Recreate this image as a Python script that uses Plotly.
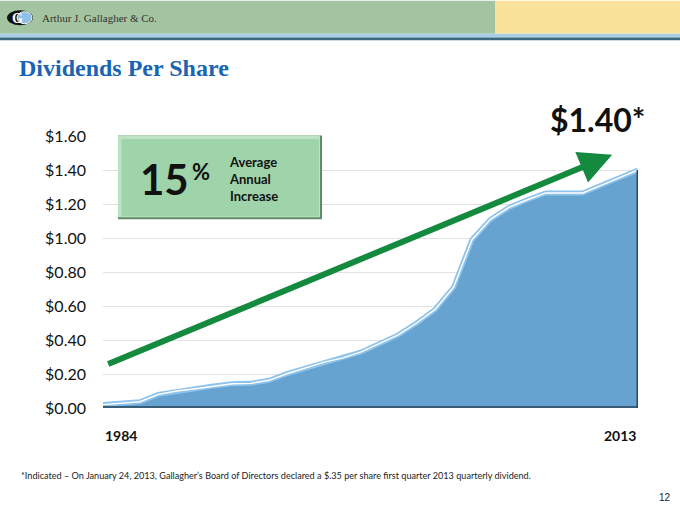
import plotly.graph_objects as go

# ---- data ----
years = list(range(1984, 2014))
dividends = [0.02, 0.028, 0.037, 0.08, 0.10, 0.113, 0.13, 0.143, 0.145, 0.163,
             0.203, 0.235, 0.27, 0.295, 0.33, 0.38, 0.43, 0.50, 0.58, 0.71,
             0.99, 1.11, 1.18, 1.225, 1.265, 1.265, 1.265, 1.31, 1.355, 1.40]
y_ticks = [0.0, 0.2, 0.4, 0.6, 0.8, 1.0, 1.2, 1.4, 1.6]
y_tick_labels = ["$0.00", "$0.20", "$0.40", "$0.60", "$0.80", "$1.00", "$1.20", "$1.40", "$1.60"]
first_label, last_label = "1984", "2013"

# ---- layout geometry (pixels) ----
FW, FH = 680, 510
L, R, T, B = 103, 638, 135.5, 408
W, H = R - L, B - T
def px(x):
    return (x - L) / W
def py(y):
    return (B - y) / H

fig = go.Figure()

fig.add_trace(go.Scatter(
    x=years, y=dividends, mode="lines", fill="tozeroy",
    fillcolor="#66A3D0", line=dict(color="#8DC3EC", width=5),
    hoverinfo="skip", showlegend=False))
fig.add_trace(go.Scatter(
    x=years, y=dividends, mode="lines",
    line=dict(color="#FFFFFF", width=1.4),
    hoverinfo="skip", showlegend=False))

shapes = []
# header bands
shapes.append(dict(type="rect", xref="paper", yref="paper", x0=px(0), x1=px(495), y0=py(33), y1=py(0),
                   fillcolor="#A3C4A0", line_width=0, layer="below"))
shapes.append(dict(type="rect", xref="paper", yref="paper", x0=px(495), x1=px(680), y0=py(33), y1=py(0),
                   fillcolor="#FBE29A", line_width=0, layer="below"))
shapes.append(dict(type="rect", xref="paper", yref="paper", x0=px(0), x1=px(680), y0=py(36.7), y1=py(33),
                   fillcolor="#A9CFE6", line_width=0))
shapes.append(dict(type="rect", xref="paper", yref="paper", x0=px(0), x1=px(680), y0=py(39.5), y1=py(36.7),
                   fillcolor="#3A6A7E", line_width=0))
# logo
shapes.append(dict(type="circle", xref="paper", yref="paper", x0=px(7), x1=px(33), y0=py(24.5), y1=py(9.5),
                   fillcolor="#111111", line_width=0))
shapes.append(dict(type="circle", xref="paper", yref="paper", x0=px(17), x1=px(32), y0=py(23), y1=py(11),
                   fillcolor="#8EC0E8", line=dict(color="#FFFFFF", width=1)))
# 3D base and right edge of area
shapes.append(dict(type="line", xref="x", yref="y", x0=years[0], x1=years[-1], y0=0, y1=0,
                   line=dict(color="#3B5E78", width=4)))
shapes.append(dict(type="line", xref="x", yref="y", x0=years[-1], x1=years[-1], y0=0, y1=dividends[-1],
                   line=dict(color="#2F4A5E", width=3)))
# green box (bevel)
shapes.append(dict(type="rect", xref="paper", yref="paper", x0=px(118), x1=px(322), y0=py(219), y1=py(135),
                   fillcolor="#5E8D67", line_width=0))
shapes.append(dict(type="rect", xref="paper", yref="paper", x0=px(118), x1=px(320), y0=py(217), y1=py(135),
                   fillcolor="#BCE3C3", line_width=0))
shapes.append(dict(type="rect", xref="paper", yref="paper", x0=px(121.5), x1=px(319), y0=py(216), y1=py(138.5),
                   fillcolor="#9FD3AA", line_width=0))

fig.update_layout(shapes=shapes)

ann = []
ann.append(dict(xref="paper", yref="paper", x=px(40), y=py(17.5), xanchor="left", yanchor="middle",
                text="Arthur J. Gallagher &amp; Co.", showarrow=False,
                font=dict(family="Liberation Serif", size=11, color="#333333")))
ann.append(dict(xref="paper", yref="paper", x=px(17), y=py(17.5), xanchor="center", yanchor="middle",
                text="<b>G</b>", showarrow=False,
                font=dict(family="Liberation Serif", size=14, color="#FFFFFF")))
ann.append(dict(xref="paper", yref="paper", x=px(17), y=py(67), xanchor="left", yanchor="middle",
                text="<b>Dividends Per Share</b>", showarrow=False,
                font=dict(family="Liberation Serif", size=24, color="#1A64B4")))
ann.append(dict(xref="paper", yref="paper", x=px(647), y=py(119), xanchor="right", yanchor="middle",
                text="<b>$1.40*</b>", showarrow=False,
                font=dict(family="Lato", size=32, color="#111111")))
# box texts
ann.append(dict(xref="paper", yref="paper", x=px(191), y=py(179), xanchor="right", yanchor="middle",
                text="<b>15</b>", showarrow=False,
                font=dict(family="Lato", size=42, color="#111111")))
ann.append(dict(xref="paper", yref="paper", x=px(190), y=py(171), xanchor="left", yanchor="middle",
                text="<b>%</b>", showarrow=False,
                font=dict(family="Lato", size=22, color="#111111")))
ann.append(dict(xref="paper", yref="paper", x=px(227), y=py(178.5), xanchor="left", yanchor="middle",
                text="<b>Average<br>Annual<br>Increase</b>", showarrow=False, align="left",
                font=dict(family="Lato", size=13, color="#111111")))
# axis end labels
ann.append(dict(xref="x", yref="paper", x=years[0], y=py(436), xanchor="left", yanchor="middle",
                text="<b>" + first_label + "</b>", showarrow=False,
                font=dict(family="Lato", size=14, color="#111111")))
ann.append(dict(xref="x", yref="paper", x=years[-1], y=py(436), xanchor="right", yanchor="middle",
                text="<b>" + last_label + "</b>", showarrow=False,
                font=dict(family="Lato", size=14, color="#111111")))
# arrow
ann.append(dict(xref="x", yref="y", axref="x", ayref="y",
                x=years[0] + 27.6, y=1.49, ax=years[0] + 0.2, ay=0.255,
                text="", showarrow=True, arrowhead=2, arrowsize=1.1, arrowwidth=6,
                arrowcolor="#138A3E", standoff=0, startstandoff=0))
# footnote and page number
ann.append(dict(xref="paper", yref="paper", x=px(19), y=py(476), xanchor="left", yanchor="middle",
                text="*Indicated \u2013 On January 24, 2013, Gallagher\u2019s Board of Directors declared a $.35 per share first quarter 2013 quarterly dividend.",
                showarrow=False, font=dict(family="Lato", size=9.1, color="#222222")))
ann.append(dict(xref="paper", yref="paper", x=px(673), y=py(498), xanchor="right", yanchor="middle",
                text="12", showarrow=False, font=dict(family="Liberation Sans", size=10, color="#222222")))

fig.update_layout(
    annotations=ann,
    width=FW, height=FH,
    margin=dict(l=L, r=FW - R, t=T, b=FH - B, pad=0, autoexpand=False),
    paper_bgcolor="#FFFFFF", plot_bgcolor="#FFFFFF",
    xaxis=dict(range=[years[0], years[-1]], showgrid=False, zeroline=False, showticklabels=False,
               showline=False, fixedrange=True),
    yaxis=dict(range=[0, 1.6], tickvals=y_ticks, ticktext=y_tick_labels, showgrid=True,
               gridcolor="#E2E2E2", gridwidth=1, zeroline=False, showline=False,
               ticklabelstandoff=16, tickfont=dict(family="Lato", size=16, color="#111111"),
               fixedrange=True),
    showlegend=False,
)

fig.write_html("out.html", config={"displayModeBar": False},
               post_script="document.body.style.margin='0';document.body.style.overflow='hidden';")
